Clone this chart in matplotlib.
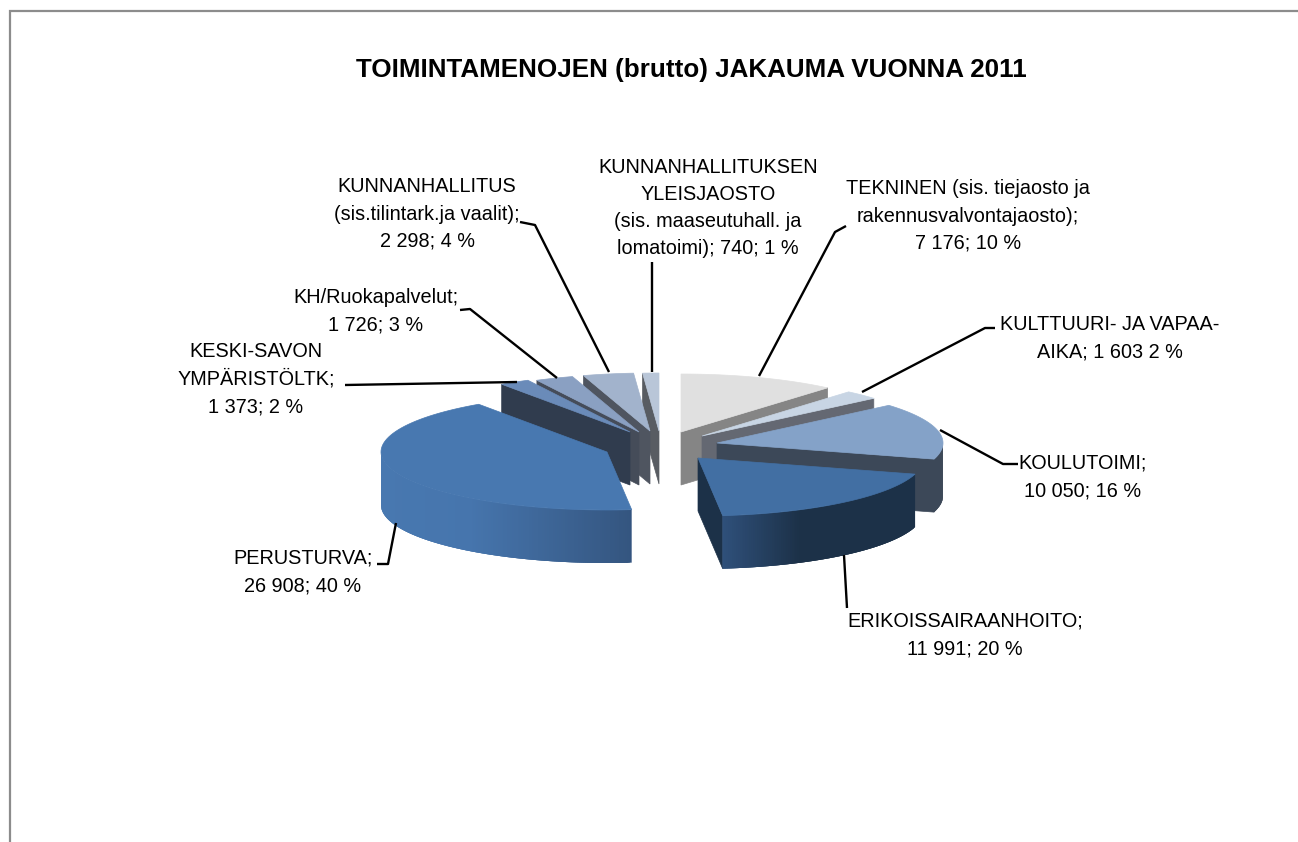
import numpy as np
import matplotlib
matplotlib.use("Agg")
import matplotlib.pyplot as plt
from matplotlib.colors import to_rgb

# --- data ---
categories = ["TEKNINEN", "KULTTUURI", "KOULUTOIMI", "ERIKOISSAIRAANHOITO", "PERUSTURVA",
              "KESKI-SAVON", "KH/Ruokapalvelut", "KUNNANHALLITUS", "YLEISJAOSTO"]
values = [7176, 1603, 10050, 11991, 26908, 1373, 1726, 2298, 740]
labels = [
    "TEKNINEN (sis. tiejaosto ja\nrakennusvalvontajaosto);\n7 176; 10 %",
    "KULTTUURI- JA VAPAA-\nAIKA; 1 603 2 %",
    "KOULUTOIMI;\n10 050; 16 %",
    "ERIKOISSAIRAANHOITO;\n11 991; 20 %",
    "PERUSTURVA;\n26 908; 40 %",
    "KESKI-SAVON\nYMPÄRISTÖLTK;\n1 373; 2 %",
    "KH/Ruokapalvelut;\n1 726; 3 %",
    "KUNNANHALLITUS\n(sis.tilintark.ja vaalit);\n2 298; 4 %",
    "KUNNANHALLITUKSEN\nYLEISJAOSTO\n(sis. maaseutuhall. ja\nlomatoimi); 740; 1 %",
]
title = "TOIMINTAMENOJEN (brutto) JAKAUMA VUONNA 2011"

# --- style and layout ---
top_colors = ["#e0e0e0", "#c8d5e4", "#84a2c8", "#426fa3", "#4878b0", "#6a8bb9", "#8aa0c2", "#a2b3cc", "#b9c6d8"]
wall_colors = ["#858585", "#646872", "#3c4858", "#1c3148", "#34557f", "#303c4e", "#454c59", "#4f5560", "#585c62"]
gradients = {3: [(723, "#2f507a"), (800, "#1c3148"), (917, "#1c3148")],
             4: [(381, "#4878b0"), (470, "#4675ad"), (633, "#34557f")]}
centre = (660, 432)
offsets = [(21, 0), (42, 4), (57, 11), (38, 26), (-53, 20), (-30, 0), (-21, 0), (-10, -1), (-1, -1)]
RX, RY, DEPTH = 226, 58, 53
paint_order = [8, 7, 6, 5, 0, 1, 2, 4, 3]
label_pos = [(968, 216), (1110, 338), (1083, 477), (965, 635), (303, 572), (256, 379), (376, 311), (427, 214), (708, 208)]
leaders = [[(759, 376), (835, 232), (846, 226)], [(862, 392), (985, 328), (995, 328)],
           [(940, 430), (1003, 464), (1018, 464)], [(844, 555), (847, 608)],
           [(396, 523), (388, 564), (377, 564)], [(517, 382), (345, 385)],
           [(557, 378), (470, 309), (460, 310)], [(609, 372), (535, 225), (520, 222)],
           [(652, 372), (652, 262)]]

plt.rcParams['font.family'] = ['Liberation Sans', 'DejaVu Sans']
fig = plt.figure(figsize=(12.98, 8.42), dpi=100)
ax = fig.add_axes([0, 0, 1, 1])
ax.set_xlim(0, 1298)
ax.set_ylim(842, 0)
ax.axis("off")

# frame
ax.plot([10, 10, 1298], [842, 11, 11], color="#8c8c8c", lw=1.6, solid_joinstyle="miter")

edges = 360 * np.concatenate([[0], np.cumsum(values)]) / np.sum(values)


def rim(cx, cy, deg):
    r = np.radians(deg)
    return cx + RX * np.sin(r), cy - RY * np.cos(r)


def fill(xs, ys, color, z, lw=0.5):
    ax.fill(xs, ys, color=color, lw=lw, zorder=z)


z = 2
for i in paint_order:
    a0, a1 = edges[i], edges[i + 1]
    cx, cy = centre[0] + offsets[i][0], centre[1] + offsets[i][1]
    # radial side walls
    if a1 <= 180:
        x, y = rim(cx, cy, a1)
        fill([cx, x, x, cx], [cy, y, y + DEPTH, cy + DEPTH], wall_colors[i], z)
    if a0 >= 180:
        x, y = rim(cx, cy, a0)
        fill([cx, x, x, cx], [cy, y, y + DEPTH, cy + DEPTH], wall_colors[i], z)
    z += 1
    # outer wall, front-facing part only; strips overlap their neighbours so no seams show
    lo, hi = max(a0, 90), min(a1, 270)
    if hi > lo:
        steps = np.linspace(lo, hi, int((hi - lo) * 2) + 2)
        step = steps[1] - steps[0]
        for s0 in steps[:-1]:
            arc = np.linspace(s0, min(s0 + 3 * step, hi), 6)
            xa, ya = rim(cx, cy, arc)
            col = wall_colors[i]
            if i in gradients:
                xp = [g[0] for g in gradients[i]]
                rgb = np.array([to_rgb(g[1]) for g in gradients[i]])
                xm = rim(cx, cy, s0 + step / 2)[0]
                col = tuple(np.interp(xm, xp, rgb[:, k]) for k in range(3))
            fill(np.r_[xa, xa[::-1]], np.r_[ya, ya[::-1] + DEPTH], col, z, lw=0)
            z += 0.001
    z = np.floor(z) + 1
    # top face
    arc = np.linspace(a0, a1, 80)
    xr, yr = rim(cx, cy, arc)
    fill(np.r_[cx, xr], np.r_[cy, yr], top_colors[i], z)
    z += 1

for pts in leaders:
    ax.plot(*zip(*pts), color="black", lw=1.7, zorder=50, solid_capstyle="butt")

for txt, (x, y) in zip(labels, label_pos):
    ax.text(x, y, txt, ha="center", va="center", fontsize=14.3, linespacing=1.55, color="black", zorder=60)

ax.text(691, 70, title, ha="center", va="center", fontsize=18.7, fontweight="bold", color="black")

fig.savefig("out.png", dpi=100, facecolor="white")
